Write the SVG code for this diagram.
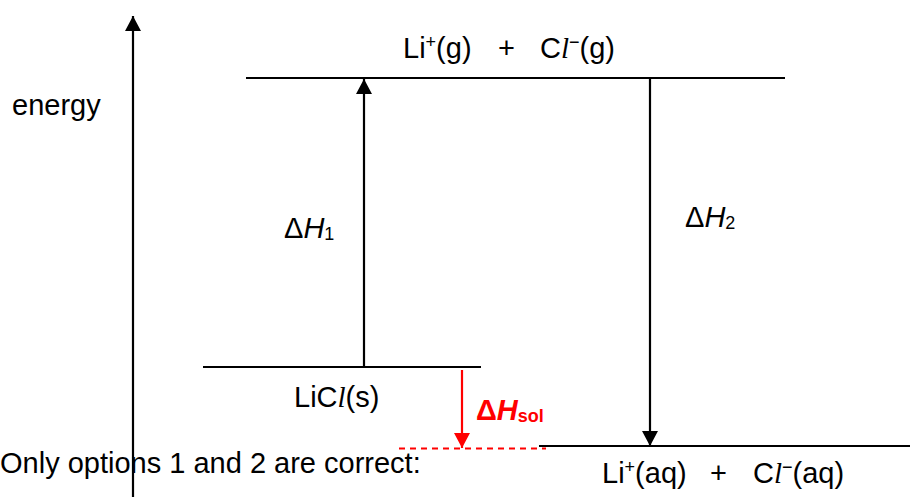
<svg xmlns="http://www.w3.org/2000/svg" width="910" height="497" viewBox="0 0 910 497">
<style>
  .t { font-family: "Liberation Sans", Arial, sans-serif; font-size: 29px; fill: #000; }
  .it { font-style: italic; }
  .ser { font-family: "Liberation Serif", "Times New Roman", serif; font-style: italic; }
  .sup { font-size: 18px; }
  .sub { font-size: 18px; }
  .ln { stroke: #000; stroke-width: 2.2; fill: none; }
  .red { fill: #FF0000; }
</style>
<defs>
  <marker id="ah" markerUnits="userSpaceOnUse" markerWidth="16" markerHeight="16" refX="15" refY="8" orient="auto">
    <path d="M0,0 L15,8 L0,16 Z" fill="#000"/>
  </marker>
  <marker id="ahr" markerUnits="userSpaceOnUse" markerWidth="16" markerHeight="16" refX="15" refY="8" orient="auto">
    <path d="M0,0 L15,8 L0,16 Z" fill="#FF0000"/>
  </marker>
</defs>

<g id="axis">
  <line class="ln" x1="133" y1="497" x2="133" y2="16" stroke-width="2.5" marker-end="url(#ah)"/>
  <text class="t" x="12" y="115">energy</text>
</g>

<g id="level-gas">
  <line class="ln" x1="246" y1="78" x2="785" y2="78"/>
  <text class="t" y="58"><tspan x="403">Li</tspan><tspan class="sup" dy="-10">+</tspan><tspan dy="10">(g)</tspan><tspan x="498">+</tspan><tspan x="540">C</tspan><tspan class="ser">l</tspan><tspan class="sup" dy="-10">−</tspan><tspan dy="10">(g)</tspan></text>
</g>

<g id="level-solid">
  <line class="ln" x1="203" y1="367" x2="481" y2="367"/>
  <text class="t" y="407"><tspan x="294">LiC</tspan><tspan class="ser">l</tspan><tspan>(s)</tspan></text>
</g>

<g id="level-aq">
  <line class="ln" x1="539" y1="446" x2="910" y2="446"/>
  <text class="t" y="483"><tspan x="602">Li</tspan><tspan class="sup" dy="-10">+</tspan><tspan dy="10">(aq)</tspan><tspan x="710">+</tspan><tspan x="753">C</tspan><tspan class="ser">l</tspan><tspan class="sup" dy="-10">−</tspan><tspan dy="10">(aq)</tspan></text>
</g>

<g id="level-dashed">
  <line x1="399" y1="448.5" x2="546" y2="448.5" stroke="#FF0000" stroke-width="2" stroke-dasharray="6,5"/>
</g>

<g id="connectors">
  <line class="ln" x1="364" y1="366" x2="364" y2="79" marker-end="url(#ah)"/>
  <line class="ln" x1="650" y1="79" x2="650" y2="446" marker-end="url(#ah)"/>
  <line x1="462" y1="370" x2="462" y2="448" stroke="#FF0000" stroke-width="2.2" marker-end="url(#ahr)"/>
</g>

<g id="label-dh1">
  <text class="t" y="238"><tspan x="284">Δ</tspan><tspan class="it">H</tspan><tspan class="sub" dy="2">1</tspan></text>
</g>
<g id="label-dh2">
  <text class="t" y="227"><tspan x="685">Δ</tspan><tspan class="it">H</tspan><tspan class="sub" dy="2">2</tspan></text>
</g>
<g id="label-dhsol">
  <text class="t red" y="420" font-weight="bold"><tspan x="476">Δ</tspan><tspan class="it">H</tspan><tspan class="sub" dy="2">sol</tspan></text>
</g>

<g id="caption">
  <text class="t" x="0" y="473">Only options 1 and 2 are correct:</text>
</g>
</svg>
